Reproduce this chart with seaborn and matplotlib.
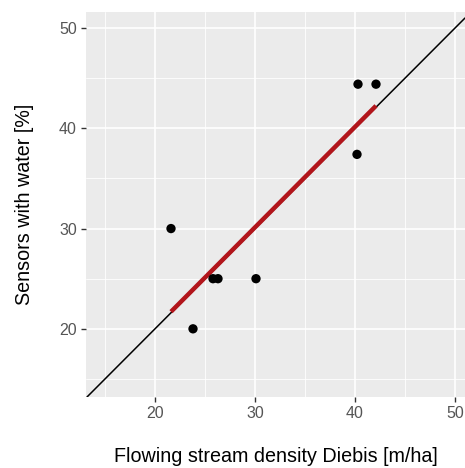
import numpy as np
import pandas as pd
import matplotlib
matplotlib.use("Agg")
import matplotlib.pyplot as plt
import seaborn as sns
from matplotlib.ticker import MultipleLocator

# Flowing stream density (Diebis) vs. share of sensors with water
stream_density = [21.6, 23.8, 25.8, 26.3, 30.1, 40.3, 42.1, 40.2]
sensors_water = [30.0, 20.0, 25.0, 25.0, 25.0, 44.4, 44.4, 37.4]
x_ticks = [20, 30, 40, 50]
y_ticks = [20, 30, 40, 50]

df = pd.DataFrame({"density": stream_density, "water": sensors_water})

sns.set_theme(style="darkgrid")
plt.rcParams["font.family"] = ["Liberation Sans", "DejaVu Sans"]

fig = plt.figure(figsize=(4.65, 4.68), dpi=100)
ax = fig.add_axes([86 / 465, 1 - 397 / 468, 379 / 465, 385 / 468])
ax.set_facecolor("#EBEBEB")

ax.set_xlim(13.1, 51.0)
ax.set_ylim(13.2, 51.6)

# grid: major and minor white lines
ax.xaxis.set_major_locator(MultipleLocator(10))
ax.yaxis.set_major_locator(MultipleLocator(10))
ax.xaxis.set_minor_locator(MultipleLocator(5))
ax.yaxis.set_minor_locator(MultipleLocator(5))
ax.grid(which="major", color="white", linewidth=1.2)
ax.grid(which="minor", color="white", linewidth=0.6)
ax.set_axisbelow(True)
for s in ax.spines.values():
    s.set_visible(False)

# 1:1 reference line
ax.axline((20, 20), (40, 40), color="black", linewidth=1.1, zorder=2)

# linear fit across the observed range
sns.regplot(data=df, x="density", y="water", ax=ax, ci=None, scatter=False,
            truncate=True,
            line_kws={"color": "#B2151B", "linewidth": 3.2, "zorder": 3,
                      "solid_capstyle": "butt"})

sns.scatterplot(data=df, x="density", y="water", ax=ax, color="black",
                s=45, edgecolor="none", zorder=4)

ax.set_xticks(x_ticks)
ax.set_yticks(y_ticks)
ax.tick_params(axis="both", which="major", length=3.5, width=1.0,
               color="#333333", labelcolor="#555555", labelsize=11.5, pad=3,
               direction="out")
ax.tick_params(which="minor", length=0)
ax.xaxis.set_ticks_position("bottom")
ax.yaxis.set_ticks_position("left")

ax.set_xlabel("Flowing stream density Diebis [m/ha]", fontsize=14.2,
              color="black", labelpad=19)
ax.set_ylabel("Sensors with water [%]", fontsize=14.2, color="black",
              labelpad=18)

fig.savefig("out.png", dpi=100, facecolor="white")
